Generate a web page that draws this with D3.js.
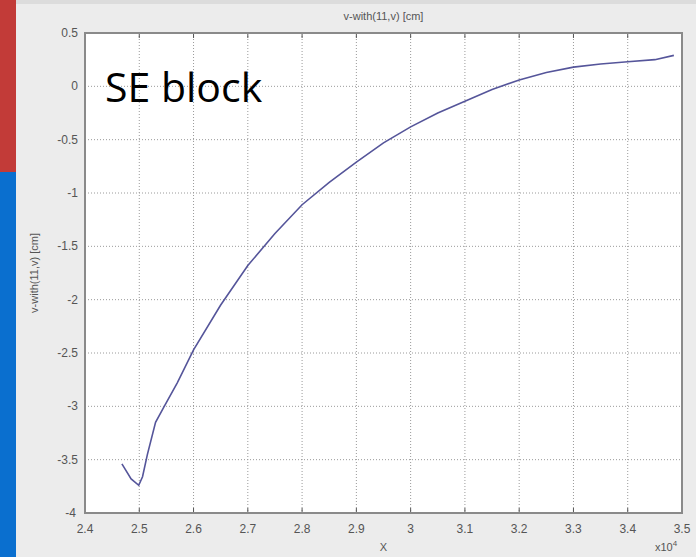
<!DOCTYPE html>
<html>
<head>
<meta charset="utf-8">
<script src="https://cdn.jsdelivr.net/npm/d3@7"></script>
<style>
  body { margin: 0; background: #ececec; }
  svg { display: block; }
</style>
</head>
<body>
<svg id="chart" width="696" height="557"></svg>
<script>
// curve values (x in units of 1e4)
const xValues = [2.468, 2.485, 2.499, 2.506, 2.515, 2.53, 2.545, 2.57, 2.6, 2.65, 2.7, 2.75, 2.8, 2.85, 2.9, 2.95, 3.0, 3.05, 3.1, 3.15, 3.2, 3.25, 3.3, 3.35, 3.4, 3.45, 3.485];
const yValues = [-3.54, -3.68, -3.74, -3.66, -3.45, -3.15, -3.01, -2.78, -2.47, -2.05, -1.68, -1.38, -1.11, -0.9, -0.71, -0.53, -0.38, -0.25, -0.14, -0.03, 0.06, 0.13, 0.18, 0.21, 0.23, 0.25, 0.29];

const xTicks = [2.4, 2.5, 2.6, 2.7, 2.8, 2.9, 3, 3.1, 3.2, 3.3, 3.4, 3.5];
const yTicks = [0.5, 0, -0.5, -1, -1.5, -2, -2.5, -3, -3.5, -4];

const plotTitle = "v-with(11,v) [cm]";
const xLabel = "X";
const yLabel = "v-with(11,v) [cm]";
const noteText = "SE block";

const svg = d3.select("#chart");
const plotLeft = 85, plotRight = 682, plotTop = 33, plotBottom = 513;

// slide decoration on the left edge
svg.append("rect").attr("x", 0).attr("y", 0).attr("width", 696).attr("height", 4).attr("fill", "#dcdcdc");
svg.append("rect").attr("x", 0).attr("y", 0).attr("width", 16).attr("height", 172).attr("fill", "#c23b38");
svg.append("rect").attr("x", 0).attr("y", 172).attr("width", 16).attr("height", 385).attr("fill", "#0a6fcf");

const x = d3.scaleLinear().domain([2.4, 3.5]).range([plotLeft, plotRight]);
const y = d3.scaleLinear().domain([-4, 0.5]).range([plotBottom, plotTop]);

svg.append("rect")
  .attr("x", plotLeft).attr("y", plotTop)
  .attr("width", plotRight - plotLeft).attr("height", plotBottom - plotTop)
  .attr("fill", "#fff");

// dotted grid
svg.append("g").selectAll("line")
  .data(xTicks.slice(1, -1))
  .join("line")
  .attr("x1", d => x(d)).attr("x2", d => x(d))
  .attr("y1", plotTop).attr("y2", plotBottom)
  .attr("stroke", "#9a9a9a").attr("stroke-dasharray", "1,2");

svg.append("g").selectAll("line")
  .data(yTicks.slice(1, -1))
  .join("line")
  .attr("y1", d => y(d)).attr("y2", d => y(d))
  .attr("x1", plotLeft).attr("x2", plotRight)
  .attr("stroke", "#9a9a9a").attr("stroke-dasharray", "1,2");

// small inward ticks
svg.append("g").selectAll("line")
  .data(xTicks)
  .join("line")
  .attr("x1", d => x(d)).attr("x2", d => x(d))
  .attr("y1", plotTop).attr("y2", plotTop + 5)
  .attr("stroke", "#555");
svg.append("g").selectAll("line")
  .data(xTicks)
  .join("line")
  .attr("x1", d => x(d)).attr("x2", d => x(d))
  .attr("y1", plotBottom).attr("y2", plotBottom - 5)
  .attr("stroke", "#555");

const line = d3.line()
  .x(d => x(d[0]))
  .y(d => y(d[1]));

svg.append("path")
  .datum(xValues.map((v, i) => [v, yValues[i]]))
  .attr("d", line)
  .attr("fill", "none")
  .attr("stroke", "#55559a")
  .attr("stroke-width", 1.6);

svg.append("rect")
  .attr("x", plotLeft).attr("y", plotTop)
  .attr("width", plotRight - plotLeft).attr("height", plotBottom - plotTop)
  .attr("fill", "none")
  .attr("stroke", "#8a8a8a")
  .attr("stroke-width", 2);

// tick labels
const tickFont = "Liberation Sans, Arial, sans-serif";

svg.append("g").selectAll("text")
  .data(yTicks)
  .join("text")
  .attr("x", d => d === -4 ? 76 : 78)
  .attr("y", d => y(d) + 4)
  .attr("text-anchor", "end")
  .attr("font-family", tickFont)
  .attr("font-size", "12px")
  .attr("fill", "#555")
  .text(d => String(d));

svg.append("g").selectAll("text")
  .data(xTicks)
  .join("text")
  .attr("x", d => x(d))
  .attr("y", 533)
  .attr("text-anchor", "middle")
  .attr("font-family", tickFont)
  .attr("font-size", "12px")
  .attr("fill", "#555")
  .text(d => String(d));

svg.append("text")
  .attr("x", (plotLeft + plotRight) / 2)
  .attr("y", 20)
  .attr("text-anchor", "middle")
  .attr("font-family", tickFont)
  .attr("font-size", "11px")
  .attr("fill", "#555")
  .text(plotTitle);

svg.append("text")
  .attr("x", (plotLeft + plotRight) / 2)
  .attr("y", 551)
  .attr("text-anchor", "middle")
  .attr("font-family", tickFont)
  .attr("font-size", "11px")
  .attr("fill", "#555")
  .text(xLabel);

const mult = svg.append("text")
  .attr("x", 655)
  .attr("y", 551)
  .attr("font-family", tickFont)
  .attr("font-size", "11px")
  .attr("fill", "#555");
mult.append("tspan").text("x10");
mult.append("tspan").attr("dy", -5).attr("font-size", "8px").text("4");

svg.append("text")
  .attr("transform", `translate(38,${(plotTop + plotBottom) / 2}) rotate(-90)`)
  .attr("text-anchor", "middle")
  .attr("font-family", tickFont)
  .attr("font-size", "11px")
  .attr("fill", "#555")
  .text(yLabel);

svg.append("text")
  .attr("x", 105)
  .attr("y", 102)
  .attr("font-family", "Open Sans, sans-serif")
  .attr("font-size", "41px")
  .attr("fill", "#000")
  .text(noteText);
</script>
</body>
</html>
